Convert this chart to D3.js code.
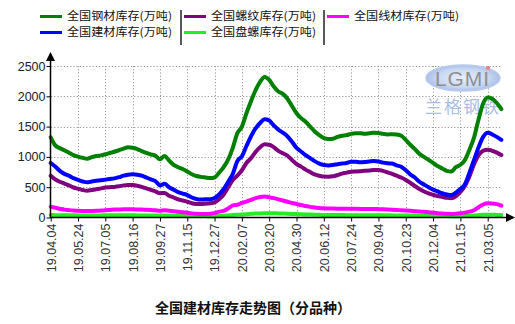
<!DOCTYPE html>
<html><head><meta charset="utf-8">
<script src="https://cdn.jsdelivr.net/npm/d3@7"></script>
<style>body{margin:0;background:#fff}svg{display:block}</style>
</head><body>
<svg id="c" width="515" height="324"></svg>
<script>
const tickLabels = ["19.04.04","19.05.24","19.07.05","19.08.16","19.09.27","19.11.15","19.12.27","20.02.07","20.03.20","20.04.30","20.06.12","20.07.24","20.09.04","20.10.23","20.12.04","21.01.15","21.03.05"];
const yTicks = [0,500,1000,1500,2000,2500];
const seriesNames = ["全国钢材库存(万吨)","全国建材库存(万吨)","全国螺纹库存(万吨)","全国盘螺库存(万吨)","全国线材库存(万吨)"];
const seriesColors = ["#008000","#0000ff","#800080","#22ee22","#ff00ff"];

const steel = [1323,1190,1145,1110,1070,1030,1005,985,970,995,1015,1025,1043,1065,1085,1110,1135,1158,1150,1130,
1095,1065,1040,1020,960,1015,940,870,830,800,760,715,685,670,660,650,660,740,830,960,
1150,1390,1500,1720,1920,2100,2240,2320,2270,2160,2080,2040,1960,1840,1720,1640,1580,1500,1420,1360,
1310,1295,1300,1330,1350,1360,1380,1390,1390,1380,1390,1400,1395,1380,1370,1375,1370,1350,1280,1200,
1130,1050,1000,950,900,850,810,770,760,830,870,950,1120,1320,1620,1880,1980,1960,1890,1790];
const building = [900,840,770,720,690,650,620,595,580,595,605,615,625,635,645,665,690,705,712,705,
690,660,630,600,530,555,500,460,420,395,370,330,305,295,300,300,320,380,470,590,
720,930,1010,1180,1340,1470,1560,1620,1600,1520,1450,1400,1340,1250,1150,1090,1030,980,930,890,
866,860,866,880,890,900,920,920,910,915,925,932,925,905,895,890,860,838,780,710,
660,590,545,500,460,430,400,380,370,410,470,550,740,950,1160,1330,1400,1370,1330,1280];
const rebar = [690,630,590,560,530,495,475,455,443,455,465,480,495,500,505,515,530,536,535,525,
505,480,455,430,400,405,360,330,300,280,260,235,223,222,228,234,250,300,380,500,
620,690,780,900,980,1080,1160,1208,1200,1160,1100,1060,1020,950,880,840,790,750,710,690,
675,673,680,700,725,740,756,760,765,770,775,784,785,770,745,720,690,660,620,570,
520,470,430,400,375,355,340,325,317,350,420,520,680,880,1030,1100,1120,1100,1070,1030];
const coil = [40,39,38,37,36,36,35,35,35,35,35,35,36,36,36,36,36,36,36,35,
35,34,34,33,32,32,31,30,29,28,27,26,25,24,23,22,22,24,28,34,
40,45,50,55,60,64,68,71,72,71,68,65,62,59,56,52,50,48,46,44,
42,41,40,40,40,39,39,38,38,38,38,37,37,36,36,35,35,34,33,32,
31,30,29,28,27,26,25,24,23,22,23,25,28,32,38,44,46,45,43,40];
const wire = [180,160,145,130,122,115,110,108,107,108,110,115,120,125,130,132,135,135,135,133,
130,128,125,120,112,118,112,105,96,88,78,68,62,58,58,62,72,96,110,150,
200,210,240,262,290,320,340,345,335,320,300,280,260,240,223,205,190,175,165,155,
151,150,148,146,145,145,144,143,142,141,140,140,138,135,132,128,124,120,115,110,
104,98,94,88,80,72,66,60,58,62,70,80,96,120,170,215,234,232,220,195];

const svg = d3.select("#c");
const x = d3.scaleLinear().domain([0, 96]).range([50.7, 487.7]);
const y = d3.scaleLinear().domain([0, 2500]).range([217.5, 66]);
const tickIdx = tickLabels.map((_, i) => i * 6);

// grid
const grid = svg.append("g").attr("stroke", "#9a9a9a").attr("stroke-width", 1).attr("stroke-dasharray", "1.2,2");
grid.selectAll("line.v").data(tickIdx.slice(1)).join("line")
  .attr("x1", d => Math.round(x(d)) + 0.5).attr("x2", d => Math.round(x(d)) + 0.5)
  .attr("y1", y(2500)).attr("y2", y(0));
grid.selectAll("line.h").data(yTicks.slice(1)).join("line")
  .attr("x1", 51).attr("x2", 502)
  .attr("y1", d => Math.round(y(d)) + 0.5).attr("y2", d => Math.round(y(d)) + 0.5);

// watermark
const wm = svg.append("g");
const grad = svg.append("defs").append("radialGradient").attr("id", "lg");
grad.append("stop").attr("offset", "0%").attr("stop-color", "#e6eefb");
grad.append("stop").attr("offset", "70%").attr("stop-color", "#c9d8f2");
grad.append("stop").attr("offset", "100%").attr("stop-color", "#a9bfe6");
wm.append("ellipse").attr("cx", 463).attr("cy", 78).attr("rx", 37).attr("ry", 13)
  .attr("fill", "url(#lg)").attr("stroke", "#b8cbee").attr("stroke-width", 1.5);
wm.append("text").attr("x", 462).attr("y", 86).attr("text-anchor", "middle")
  .attr("font-family", "Liberation Sans, Arial").attr("font-size", 21).attr("fill", "#8f8f8f")
  .attr("textLength", 54).text("LGMI");
wm.append("circle").attr("cx", 488).attr("cy", 68).attr("r", 2).attr("fill", "#f08080");
wm.append("text").attr("x", 462).attr("y", 113).attr("text-anchor", "middle")
  .attr("font-family", "Noto Sans CJK SC").attr("font-size", 17).attr("fill", "#a9bde6")
  .attr("textLength", 74).text("兰格钢铁");

// lines
const line = d3.line().x((d, i) => x(i)).y(d => y(d)).curve(d3.curveMonotoneX);
const drawOrder = [[coil, 3], [wire, 4], [rebar, 2], [building, 1], [steel, 0]];
svg.append("g").selectAll("path").data(drawOrder).join("path")
  .attr("d", d => line(d[0])).attr("fill", "none")
  .attr("stroke", d => seriesColors[d[1]]).attr("stroke-width", 4)
  .attr("stroke-linejoin", "round").attr("stroke-linecap", "round");

// axes
const yAxis = svg.append("g").attr("transform", "translate(50.5,0)")
  .call(d3.axisLeft(y).tickValues(yTicks).tickSize(4).tickPadding(1).tickFormat(d3.format("d")));
yAxis.select(".domain").remove();
yAxis.selectAll("text").attr("font-family", "Liberation Sans, Arial").attr("font-size", 12.5).attr("fill", "#222");
yAxis.selectAll("line").attr("stroke", "#000");
svg.append("line").attr("x1", 50.5).attr("x2", 50.5).attr("y1", 218).attr("y2", 58).attr("stroke", "#000").attr("stroke-width", 1.5);
svg.append("path").attr("d", "M50.5,52 L46,61 L55,61 Z").attr("fill", "#000");

const xAxis = svg.append("g").attr("transform", "translate(0,217.5)")
  .call(d3.axisBottom(x).tickValues(tickIdx).tickSize(4).tickFormat((d, i) => tickLabels[i]));
xAxis.select(".domain").remove();
xAxis.selectAll("line").attr("stroke", "#000");
xAxis.selectAll("text").attr("font-family", "Liberation Sans, Arial").attr("font-size", 12.5).attr("fill", "#333")
  .attr("text-anchor", "end").attr("dy", "0.35em").attr("transform", "translate(0,6) rotate(-90)").attr("x", 0).attr("y", 0);
svg.append("line").attr("x1", 50).attr("x2", 508).attr("y1", 217.5).attr("y2", 217.5).attr("stroke", "#000").attr("stroke-width", 1.5);
svg.append("path").attr("d", "M515,217.5 L506,213 L506,222 Z").attr("fill", "#000");

// legend
const legendPos = [[40, 16.5], [40, 32.5], [184, 16.5], [184, 32.5], [327, 16.5]];
const legendOrder = [0, 1, 2, 3, 4];
const lg = svg.append("g").selectAll("g").data(legendOrder).join("g")
  .attr("transform", (d, i) => `translate(${legendPos[i][0]},${legendPos[i][1]})`);
lg.append("line").attr("x1", 0).attr("x2", 22).attr("stroke", d => seriesColors[d]).attr("stroke-width", 3);
lg.append("text").attr("x", 27).attr("y", 0).attr("dy", "0.36em")
  .attr("font-family", "Noto Sans CJK SC").attr("font-size", 11).attr("fill", "#111")
  .attr("textLength", 105).attr("lengthAdjust", "spacingAndGlyphs").text(d => seriesNames[d]);
svg.append("g").selectAll("line").data([181, 324]).join("line")
  .attr("x1", d => d).attr("x2", d => d).attr("y1", 10).attr("y2", 45)
  .attr("stroke", "#222").attr("stroke-width", 1.5);

// title
svg.append("text").attr("x", 253).attr("y", 313).attr("text-anchor", "middle")
  .attr("font-family", "Noto Sans CJK SC").attr("font-weight", "bold").attr("font-size", 14)
  .attr("fill", "#111").text("全国建材库存走势图（分品种）");
</script>
</body></html>
